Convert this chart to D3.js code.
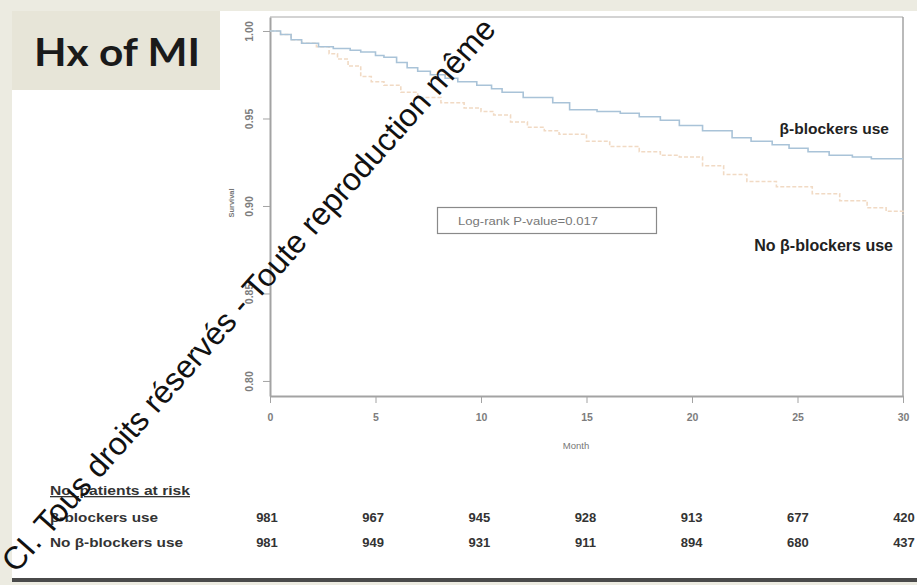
<!DOCTYPE html>
<html>
<head>
<meta charset="utf-8">
<script src="https://cdn.jsdelivr.net/npm/d3@7"></script>
<style>
  html, body { margin: 0; padding: 0; background: #ecebe1; }
  svg { display: block; }
</style>
</head>
<body>
<svg id="chart" width="917" height="585"></svg>
<script>
// Kaplan–Meier survival, patients with history of MI, by beta-blocker use
const months = [0, 5, 10, 15, 20, 25, 30];
const survivalTicks = [0.80, 0.85, 0.90, 0.95, 1.00];

// step points of each survival curve: [month, survival]
const bbMonths = [0, 0.5, 1.0, 1.5, 2.3, 3.0, 3.8, 4.3, 5.0, 5.4, 6.0, 6.5, 7.0, 7.6, 8.3, 8.9, 9.8, 10.5, 11.0, 12.0, 13.4, 14.2, 15.5, 16.6, 17.5, 18.5, 19.4, 20.5, 21.9, 22.8, 23.8, 24.6, 25.5, 26.5, 27.6, 28.5, 30];
const bbSurv   = [1.000, 0.998, 0.995, 0.993, 0.991, 0.990, 0.989, 0.988, 0.986, 0.985, 0.982, 0.979, 0.977, 0.975, 0.973, 0.971, 0.969, 0.967, 0.965, 0.962, 0.959, 0.955, 0.954, 0.953, 0.951, 0.949, 0.946, 0.943, 0.939, 0.937, 0.935, 0.933, 0.931, 0.929, 0.928, 0.927, 0.927];

const noBbMonths = [0, 0.5, 1.0, 1.5, 2.2, 2.8, 3.2, 3.7, 4.3, 4.8, 5.4, 6.2, 7.0, 8.1, 9.2, 10.0, 10.6, 11.4, 12.2, 13.0, 13.7, 15.0, 16.1, 17.5, 18.5, 19.4, 20.5, 21.5, 22.6, 24.0, 25.7, 27.0, 28.3, 29.2, 30];
const noBbSurv   = [1.000, 0.998, 0.995, 0.993, 0.991, 0.987, 0.984, 0.980, 0.974, 0.971, 0.969, 0.965, 0.962, 0.959, 0.956, 0.954, 0.952, 0.948, 0.945, 0.943, 0.941, 0.937, 0.934, 0.931, 0.929, 0.928, 0.923, 0.918, 0.914, 0.911, 0.907, 0.903, 0.899, 0.897, 0.895];

// number of patients at risk at each month tick
const riskGroups = ["β-blockers use", "No β-blockers use"];
const riskBb   = [981, 967, 945, 928, 913, 677, 420];
const riskNoBb = [981, 949, 931, 911, 894, 680, 437];

const svg = d3.select("#chart");
const SANS = "'Liberation Sans', Arial, sans-serif";

// slide panel
svg.append("rect").attr("x", 12).attr("y", 11).attr("width", 905).attr("height", 568).attr("fill", "#ffffff");
svg.append("rect").attr("x", 12).attr("y", 578).attr("width", 905).attr("height", 4).attr("fill", "#4a4a4a");
svg.append("rect").attr("x", 12).attr("y", 11).attr("width", 208).attr("height", 79).attr("fill", "#e7e5d8");

// title
svg.append("text").attr("x", 34).attr("y", 66)
  .attr("font-family", "Lato, 'Open Sans', sans-serif").attr("font-weight", 700)
  .attr("font-size", 38).attr("fill", "#1a1a1a")
  .attr("textLength", 166).attr("lengthAdjust", "spacingAndGlyphs")
  .text("Hx of MI");

// scales
const x = d3.scaleLinear().domain([0, 30]).range([270, 903]);
const y = d3.scaleLinear().domain([0.7914, 1.008]).range([396, 17]);

const axisColor = "#a3a3a3";
const tickText = "#7d7d7d";

// frame top/right
svg.append("line").attr("x1", x(0)).attr("x2", x(30)).attr("y1", y(1.008)).attr("y2", y(1.008))
  .attr("stroke", "#c4c4c4").attr("stroke-width", 1.5);
svg.append("line").attr("x1", x(30)).attr("x2", x(30)).attr("y1", y(1.008)).attr("y2", y(0.7914))
  .attr("stroke", axisColor).attr("stroke-width", 1.5);

// y axis
const yAxis = svg.append("g").attr("transform", `translate(${x(0)},0)`)
  .call(d3.axisLeft(y).tickValues(survivalTicks).tickFormat(d3.format(".2f")).tickSize(7).tickSizeOuter(0));
yAxis.select(".domain").attr("stroke", axisColor).attr("stroke-width", 2);
yAxis.selectAll(".tick line").attr("stroke", axisColor).attr("stroke-width", 1);
yAxis.selectAll(".tick text")
  .attr("transform", "rotate(-90)").attr("x", 0).attr("y", -21).attr("dy", "0.35em")
  .attr("text-anchor", "middle")
  .attr("font-family", SANS).attr("font-weight", 700).attr("font-size", 10.5).attr("fill", tickText);

// x axis
const xAxis = svg.append("g").attr("transform", `translate(0,${y(0.7914)})`)
  .call(d3.axisBottom(x).tickValues(months).tickSize(7).tickSizeOuter(0));
xAxis.select(".domain").attr("stroke", axisColor).attr("stroke-width", 2);
xAxis.selectAll(".tick line").attr("stroke", axisColor).attr("stroke-width", 1);
xAxis.selectAll(".tick text").attr("y", 18)
  .attr("font-family", SANS).attr("font-weight", 700).attr("font-size", 10.5).attr("fill", tickText);

// axis titles
svg.append("text").attr("transform", "translate(234,203) rotate(-90)").attr("text-anchor", "middle")
  .attr("font-family", SANS).attr("font-weight", 700).attr("font-size", 7.5).attr("fill", "#777").text("Survival");
svg.append("text").attr("x", 576).attr("y", 449).attr("text-anchor", "middle")
  .attr("font-family", SANS).attr("font-size", 9.5).attr("fill", "#777").text("Month");

// survival step curves
const line = d3.line().x(d => x(d[0])).y(d => y(d[1])).curve(d3.curveStepAfter);
const bbData = bbMonths.map((m, i) => [m, bbSurv[i]]);
const noBbData = noBbMonths.map((m, i) => [m, noBbSurv[i]]);

svg.append("path").datum(noBbData).attr("d", line)
  .attr("fill", "none").attr("stroke", "#f1dac4").attr("stroke-width", 1.6)
  .attr("stroke-dasharray", "4,2");
svg.append("path").datum(bbData).attr("d", line)
  .attr("fill", "none").attr("stroke", "#a9c3d8").attr("stroke-width", 1.6);

// curve labels
svg.append("text").attr("x", 889).attr("y", 134).attr("text-anchor", "end")
  .attr("font-family", SANS).attr("font-weight", 700).attr("font-size", 15.5).attr("fill", "#222")
  .text("β-blockers use");
svg.append("text").attr("x", 893).attr("y", 251).attr("text-anchor", "end")
  .attr("font-family", SANS).attr("font-weight", 700).attr("font-size", 16).attr("fill", "#222")
  .text("No β-blockers use");

// log-rank box
svg.append("rect").attr("x", 437.5).attr("y", 207.5).attr("width", 219).attr("height", 26)
  .attr("fill", "#fff").attr("stroke", "#8a8a8a").attr("stroke-width", 1.2);
svg.append("text").attr("x", 458).attr("y", 225)
  .attr("font-family", SANS).attr("font-size", 11.5).attr("fill", "#777")
  .attr("textLength", 140).attr("lengthAdjust", "spacingAndGlyphs")
  .text("Log-rank P-value=0.017");

// risk table
const xr = d3.scaleLinear().domain([0, 30]).range([267, 904]);
svg.append("text").attr("x", 50).attr("y", 495)
  .attr("font-family", SANS).attr("font-weight", 700).attr("font-size", 13).attr("fill", "#333")
  .attr("textLength", 140).attr("lengthAdjust", "spacingAndGlyphs")
  .attr("text-decoration", "underline").text("No. patients at risk");
const rows = [riskBb, riskNoBb];
const rowY = [522, 547];
const rowW = [108, 133];
rows.forEach((vals, r) => {
  svg.append("text").attr("x", 50).attr("y", rowY[r])
    .attr("font-family", SANS).attr("font-weight", 700).attr("font-size", 13.5).attr("fill", "#333")
    .attr("textLength", rowW[r]).attr("lengthAdjust", "spacingAndGlyphs")
    .text(riskGroups[r]);
  svg.selectAll(null).data(vals).enter().append("text")
    .attr("x", (d, i) => xr(months[i])).attr("y", rowY[r]).attr("text-anchor", "middle")
    .attr("font-family", SANS).attr("font-weight", 700).attr("font-size", 13).attr("fill", "#333")
    .text(d => d);
});

// copyright line across the slide
svg.append("text").attr("transform", "translate(16,574) rotate(-48.5)")
  .attr("font-family", SANS).attr("font-size", 32).attr("fill", "#111")
  .text("CI. Tous droits réservés - Toute reproduction même");
</script>
</body>
</html>
